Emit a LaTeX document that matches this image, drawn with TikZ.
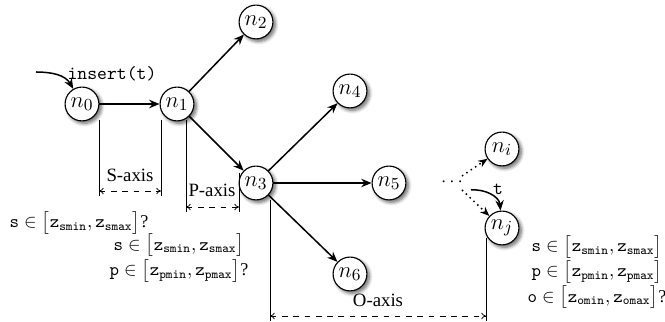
\documentclass[tikz,border=0pt]{standalone}
\usepackage{fontspec}
\setmainfont{Liberation Serif}
\usetikzlibrary{arrows.meta,shadows.blur}

\begin{document}
\begin{tikzpicture}[x=0.532pt,y=-0.532pt,
  vtx/.style={circle,draw,semithick,fill=white,minimum size=18pt,inner sep=0pt,
    font=\fontsize{13}{15}\selectfont,
    blur shadow={shadow xshift=1.3pt,shadow yshift=-1.3pt,shadow blur steps=6,shadow opacity=60}},
  edge/.style={thick,-{Stealth[length=5.5pt,width=4.5pt,inset=1.8pt]}},
  dotedge/.style={thick,dotted,-{Stealth[length=5pt,width=4pt,inset=1.6pt]}},
  guide/.style={thin},
  dim/.style={thin,dashed,{To[length=2.5pt,width=3.5pt]}-{To[length=2.5pt,width=3.5pt]}},
  query/.style={align=center,inner sep=1pt,font=\fontsize{9.6}{13.5}\selectfont}]
\useasboundingbox (0,0) rectangle (665,322);

% vertices
\node[vtx] (n0) at (82,104) {$n_0$};
\node[vtx] (n1) at (177,104) {$n_1$};
\node[vtx] (n2) at (256,22) {$n_2$};
\node[vtx] (n3) at (256,183) {$n_3$};
\node[vtx] (n4) at (350,91) {$n_4$};
\node[vtx] (n5) at (389,183) {$n_5$};
\node[vtx] (n6) at (350,274) {$n_6$};
\node[vtx] (ni) at (502,149) {$n_i$};
\node[vtx] (nj) at (502,228) {$n_j$};

% insertion
\coordinate (ins) at (36,72);
\draw[edge] (ins) to[out=0,in=120] (n0);
\node (lbl) at (112,74) {\texttt{insert(t)}};

% tree edges
\draw[edge] (n0) -- (n1);
\draw[edge] (n1) -- (n2);
\draw[edge] (n1) -- (n3);
\draw[edge] (n3) -- (n4);
\draw[edge] (n3) -- (n5);
\draw[edge] (n3) -- (n6);

% elided part of the tree
\node (dots) at (452,182) {$\cdots$};
\coordinate (d1) at (462,176);
\coordinate (d2) at (462,190);
\draw[dotedge] (d1) -- (ni);
\draw[dotedge] (d2) -- (nj);
\coordinate (ts) at (471,190);
\draw[edge] (ts) to[out=5,in=95] (nj);
\node (tl) at (498,189) {\texttt{t}};

% axis guides
\coordinate (a1) at (99,120);  \coordinate (a2) at (99,196);
\coordinate (b1) at (161,120); \coordinate (b2) at (161,196);
\coordinate (c1) at (186,120); \coordinate (c2) at (186,212);
\coordinate (e1) at (239,173); \coordinate (e2) at (239,212);
\coordinate (f1) at (270,200); \coordinate (f2) at (270,321);
\coordinate (g1) at (486,238); \coordinate (g2) at (486,321);
\draw[guide] (a1) -- (a2);
\draw[guide] (b1) -- (b2);
\draw[guide] (c1) -- (c2);
\draw[guide] (e1) -- (e2);
\draw[guide] (f1) -- (f2);
\draw[guide] (g1) -- (g2);

\coordinate (sa) at (99,191);  \coordinate (sb) at (161,191);
\coordinate (pa) at (186,207); \coordinate (pb) at (239,207);
\coordinate (oa) at (270,316); \coordinate (ob) at (486,316);
\draw[dim] (sa) -- (sb);
\draw[dim] (pa) -- (pb);
\draw[dim] (oa) -- (ob);
\node (sax) at (130,175) {S-axis};
\node (pax) at (212,190) {P-axis};
\node (oax) at (378,300) {O-axis};

% range queries
\node[query] (q1) at (79,223)
  {$\mathtt{s}\in\bigl[\mathtt{z}_{\mathtt{smin}},\mathtt{z}_{\mathtt{smax}}\bigr]$?};
\node[query] (q2) at (179,258)
  {$\mathtt{s}\in\bigl[\mathtt{z}_{\mathtt{smin}},\mathtt{z}_{\mathtt{smax}}\bigr]$\\
   $\mathtt{p}\in\bigl[\mathtt{z}_{\mathtt{pmin}},\mathtt{z}_{\mathtt{pmax}}\bigr]$?};
\node[query] (q3) at (597,272)
  {$\mathtt{s}\in\bigl[\mathtt{z}_{\mathtt{smin}},\mathtt{z}_{\mathtt{smax}}\bigr]$\\
   $\mathtt{p}\in\bigl[\mathtt{z}_{\mathtt{pmin}},\mathtt{z}_{\mathtt{pmax}}\bigr]$\\
   $\mathtt{o}\in\bigl[\mathtt{z}_{\mathtt{omin}},\mathtt{z}_{\mathtt{omax}}\bigr]$?};
\end{tikzpicture}
\end{document}
